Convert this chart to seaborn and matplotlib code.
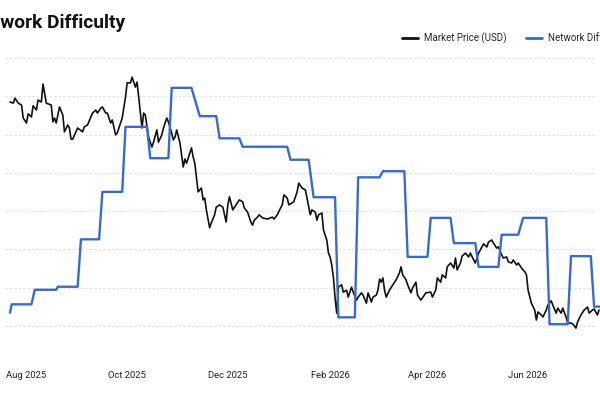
import pandas as pd
import matplotlib
matplotlib.use('Agg')
import matplotlib.pyplot as plt
import matplotlib.dates as mdates
import seaborn as sns

# Day offsets are counted from 1 Aug 2025
START = pd.Timestamp('2025-08-01')

price_days = [-10, -8, -7, -5, -3, -2, 0, 1, 3, 4, 6, 7, 9, 10, 12, 15, 16, 17, 18, 20,
              22, 23, 25, 26, 27, 28, 31, 34, 35, 37, 40, 42, 43, 45, 46, 48, 49, 51, 52, 54,
              55, 58, 60, 61, 63, 64, 66, 67, 68, 70, 71, 72, 74, 76, 77, 79, 80, 82, 83, 85,
              86, 88, 89, 90, 91, 93, 95, 96, 97, 100, 101, 102, 104, 106, 107, 108, 109, 111, 112, 114,
              115, 117, 119, 121, 122, 123, 125, 127, 129, 131, 132, 134, 136, 137, 138, 140, 141, 143, 146, 149,
              150, 152, 154, 155, 156, 158, 159, 162, 164, 165, 167, 169, 170, 172, 173, 175, 176, 177, 179, 180,
              182, 183, 184, 185, 186, 187, 188, 189, 191, 192, 194, 195, 197, 198, 200, 201, 203, 204, 206, 207,
              209, 210, 212, 213, 214, 215, 216, 217, 218, 220, 222, 224, 226, 227, 228, 230, 231, 233, 234, 236,
              237, 239, 240, 242, 245, 246, 248, 249, 251, 252, 254, 255, 257, 259, 260, 261, 263, 264, 266, 268,
              269, 271, 272, 274, 276, 277, 279, 280, 282, 283, 285, 286, 288, 289, 291, 292, 294, 295, 297, 298,
              300, 302, 303, 304, 306, 308, 309, 310, 312, 313, 315, 316, 318, 319, 321, 322, 324, 325, 327, 328,
              330, 331, 333, 334, 336, 338, 340, 341, 343, 344, 346, 347]

# market price, thousands of USD
price_k = [118.5, 118.2, 119.5, 118.2, 117.7, 114.3, 113.0, 115.4, 114.6, 117.5, 116.4, 119.0, 118.5, 123.2, 118.2, 117.7, 113.3, 114.3, 113.0, 117.2,
           115.1, 110.7, 112.5, 111.7, 108.8, 108.8, 111.7, 110.7, 112.0, 112.5, 115.6, 116.4, 115.6, 116.9, 117.2, 115.6, 115.6, 113.0, 113.8, 109.9,
           110.4, 114.3, 119.8, 123.5, 123.5, 125.0, 122.4, 123.7, 119.8, 111.7, 115.6, 115.1, 109.3, 106.7, 108.0, 111.2, 108.0, 109.9, 111.7, 114.3,
           113.3, 110.4, 108.6, 109.3, 111.2, 107.8, 101.5, 103.6, 102.5, 106.5, 104.1, 102.5, 95.0, 96.0, 92.9, 93.4, 90.3, 85.6, 86.9, 89.0,
           91.0, 91.6, 91.0, 87.1, 91.6, 93.7, 90.3, 91.6, 92.9, 92.4, 90.8, 89.7, 87.1, 86.3, 87.6, 88.4, 89.0, 88.2, 87.9, 88.4,
           87.9, 89.0, 90.8, 91.6, 94.2, 93.4, 91.6, 92.4, 95.0, 97.3, 96.0, 95.5, 93.4, 89.0, 90.3, 89.7, 87.6, 89.0, 89.5, 85.0,
           82.4, 79.0, 78.0, 75.9, 72.7, 67.3, 63.3, 70.1, 70.7, 68.8, 69.3, 67.5, 70.1, 68.8, 66.7, 67.5, 68.6, 68.0, 65.9, 68.6,
           66.2, 67.5, 68.0, 69.3, 72.2, 71.4, 72.5, 69.3, 67.5, 69.3, 70.7, 72.0, 73.8, 75.4, 73.3, 72.0, 70.7, 68.6, 69.9, 71.4,
           68.0, 66.7, 67.3, 68.6, 68.8, 67.5, 69.3, 72.5, 71.4, 73.3, 72.5, 75.4, 76.4, 75.1, 77.7, 74.6, 76.4, 78.2, 79.0, 78.0,
           79.0, 77.2, 76.4, 79.0, 80.6, 81.4, 80.6, 81.9, 82.4, 81.6, 80.3, 80.6, 78.5, 77.7, 78.0, 76.7, 76.4, 77.2, 75.9, 76.4,
           75.1, 74.1, 73.3, 69.3, 65.9, 64.1, 61.5, 63.6, 62.8, 62.3, 64.1, 65.4, 66.5, 65.4, 63.3, 64.6, 63.3, 64.6, 62.3, 60.7,
           60.7, 60.5, 59.4, 61.0, 62.8, 64.1, 64.9, 63.3, 64.1, 64.4, 62.8, 64.1]

diff_days = [-10, -9, 3, 5, 18, 19, 31, 33, 44, 46, 58, 60, 73, 75, 86, 88, 100, 105, 115, 117,
             129, 131, 158, 160, 171, 174, 187, 189, 199, 201, 214, 216, 229, 231, 243, 245, 257, 259, 272, 274,
             286, 288, 298, 301, 315, 317, 328, 330, 342, 344, 348]

# network difficulty, T
difficulty_t = [116.7, 117.8, 117.8, 119.7, 119.7, 120.1, 120.1, 126.3, 126.3, 132.5, 132.5, 141.0, 141.0, 136.9, 136.9, 146.1, 146.1, 142.4, 142.4, 139.5,
                139.5, 138.4, 138.4, 136.7, 136.7, 131.8, 131.8, 116.1, 116.1, 134.4, 134.4, 135.2, 135.2, 124.0, 124.0, 129.1, 129.1, 125.8, 125.8, 122.7,
                122.7, 126.9, 126.9, 129.1, 129.1, 115.2, 115.2, 124.1, 124.1, 117.5, 117.5]

df_price = pd.DataFrame({'Date': START + pd.to_timedelta(price_days, unit='D'), 'Price': price_k})
df_diff = pd.DataFrame({'Date': START + pd.to_timedelta(diff_days, unit='D'), 'Difficulty': difficulty_t})

sns.set_style('white')
plt.rcParams['font.family'] = ['Roboto', 'DejaVu Sans']

fig = plt.figure(figsize=(6, 4), dpi=100)
W, H = 600, 400
# axes placed in pixel terms of the reference (left edge of chart is cropped)
ax = fig.add_axes([5 / W, 1 - 364 / H, 590 / W, 306 / H])
ax2 = ax.twinx()

black = '#111111'
blue = '#3a6bc6'

sns.lineplot(data=df_price, x='Date', y='Price', ax=ax, color=black, linewidth=1.2,
             estimator=None, sort=False, label='Market Price (USD)', legend=False)
sns.lineplot(data=df_diff, x='Date', y='Difficulty', ax=ax2, color=blue, linewidth=1.7,
             estimator=None, sort=False, label='Network Difficulty', legend=False)
for line in ax.lines + ax2.lines:
    line.set_clip_on(False)

ax.set_ylim(50, 130)
ax2.set_ylim(110, 150)
ax.set_yticks(range(50, 131, 10))
ax2.set_yticks([])

px_per_day = 1.65
x_left = START + pd.Timedelta(days=(5 - 26.5) / px_per_day)
x_right = START + pd.Timedelta(days=(595 - 26.5) / px_per_day)
ax.set_xlim(x_left, x_right)

ax.xaxis.set_major_locator(mdates.MonthLocator(bymonth=[2, 4, 6, 8, 10, 12]))
ax.xaxis.set_major_formatter(mdates.DateFormatter('%b %Y'))
ax.tick_params(axis='x', length=0, pad=5, labelsize=6.8, labelcolor='#222222')
ax.tick_params(axis='y', length=0, labelleft=False)
ax2.tick_params(length=0, labelright=False)

ax.grid(axis='y', color='#dedede', linestyle=(0, (2, 2)), linewidth=0.8)
ax.grid(axis='x', visible=False)
ax.set_xlabel('')
ax.set_ylabel('')
ax2.set_ylabel('')
for a in (ax, ax2):
    for s in a.spines.values():
        s.set_visible(False)

fig.text(-30 / W, 1 - 28 / H, 'Network Difficulty', fontsize=13.8, fontweight='bold',
         color='#111111', va='baseline', ha='left')

handles = ax.lines[:1] + ax2.lines[:1]
labels = ['Market Price (USD)', 'Network Difficulty']
leg = fig.legend(handles, labels, loc='center left', bbox_to_anchor=(402 / W, 1 - 38 / H),
                 ncol=2, frameon=False, fontsize=7, borderpad=0, borderaxespad=0,
                 handlelength=1.65, handletextpad=0.6, columnspacing=2.0)
for h in leg.legend_handles:
    h.set_linewidth(2)

fig.savefig('out.png', dpi=100)
